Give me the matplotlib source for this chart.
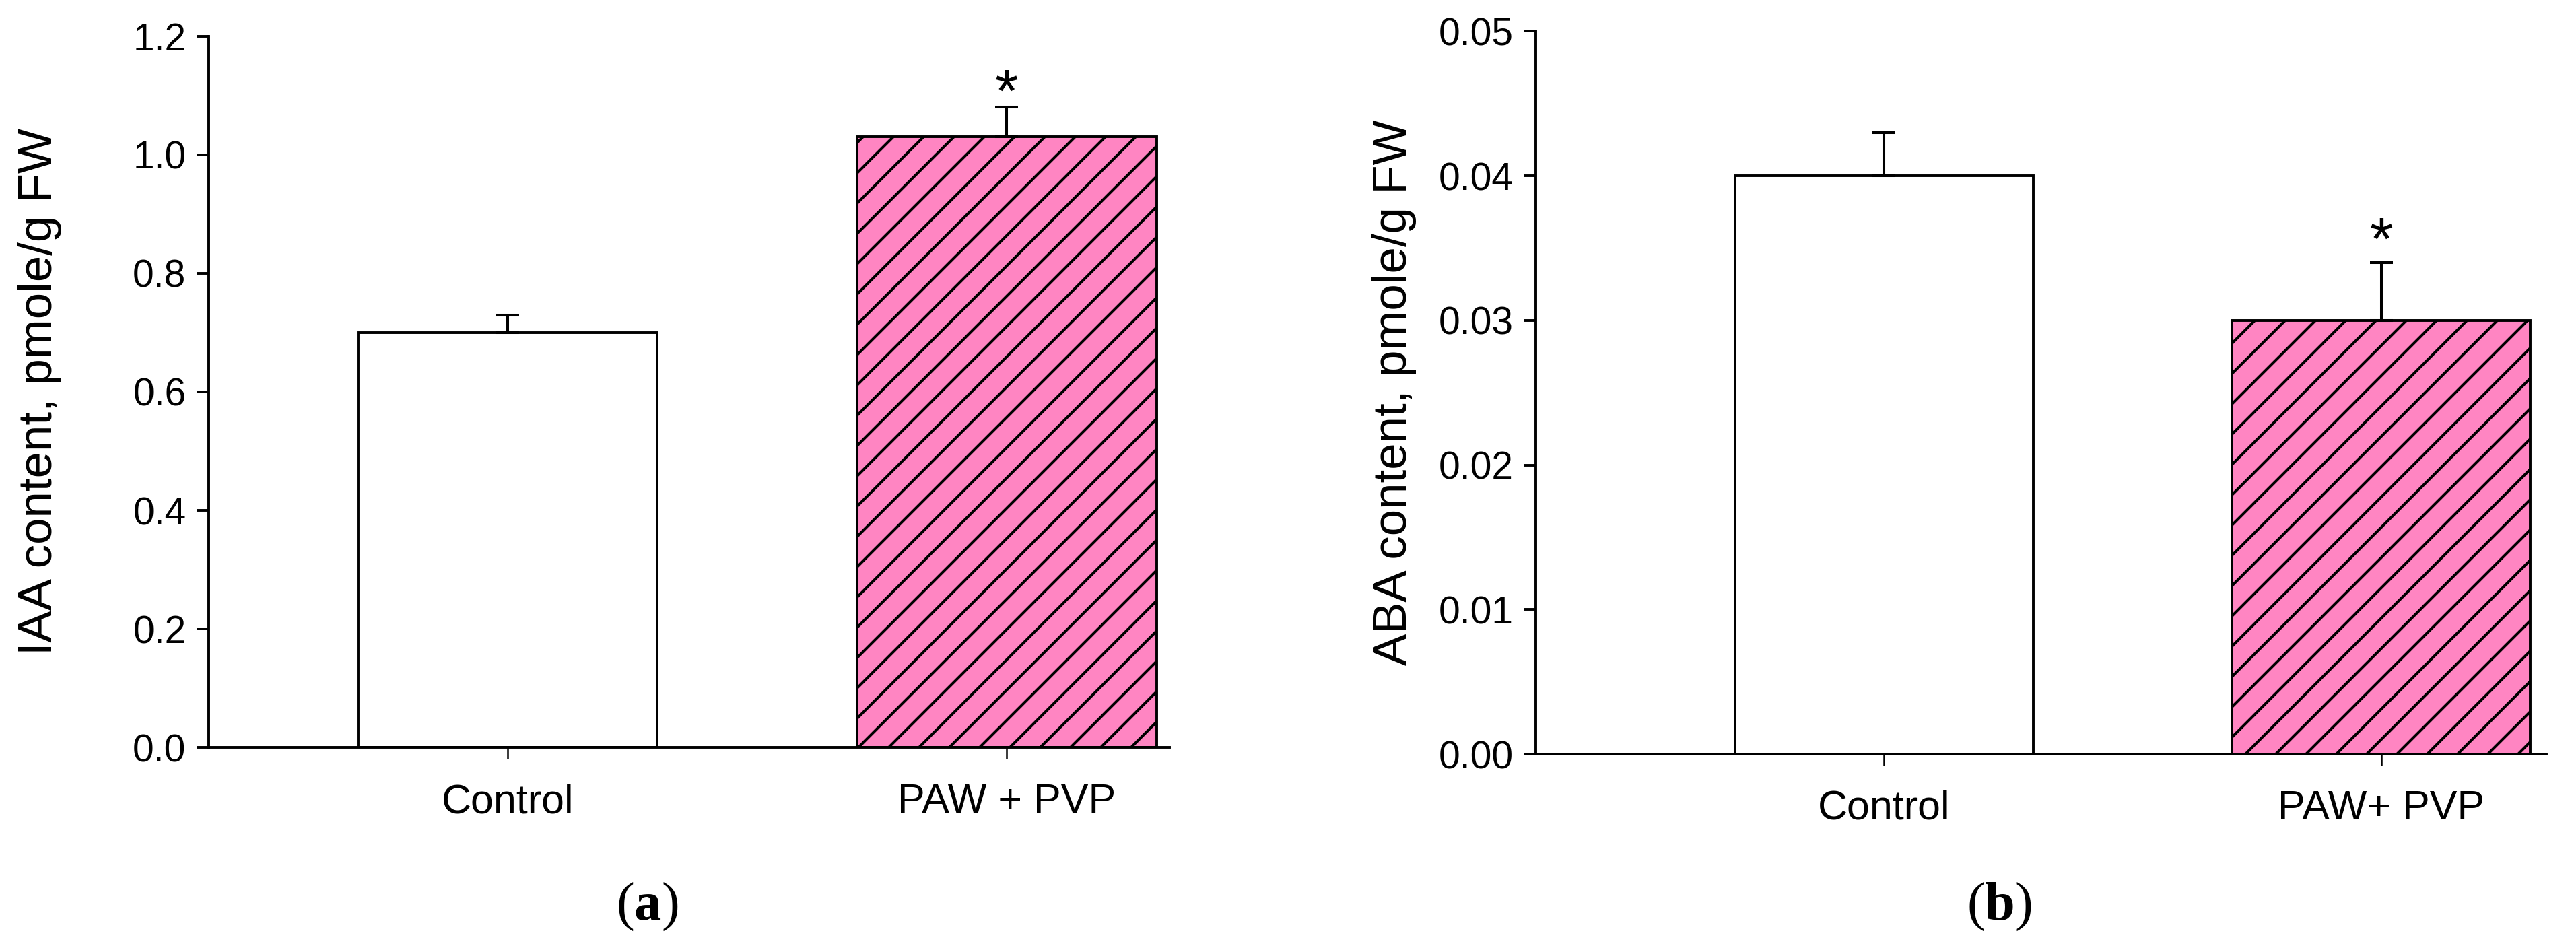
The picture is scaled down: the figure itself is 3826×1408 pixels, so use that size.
import matplotlib
matplotlib.use("Agg")
import matplotlib.pyplot as plt

# data
groups_a = ["Control", "PAW + PVP"]
iaa_mean = [0.70, 1.03]
iaa_err = [0.03, 0.05]
iaa_sig = [False, True]

groups_b = ["Control", "PAW+ PVP"]
aba_mean = [0.040, 0.030]
aba_err = [0.003, 0.004]
aba_sig = [False, True]

# dpi picked so the '//' hatch spacing matches the original; sizes below
# were worked out for 200 dpi, hence the factor S
DPI = 270
S = 200 / DPI

plt.rcParams["font.family"] = ["Liberation Sans", "DejaVu Sans"]
plt.rcParams["hatch.linewidth"] = 1.45 * S
plt.rcParams["mathtext.fontset"] = "custom"
plt.rcParams["mathtext.rm"] = "Liberation Serif"
plt.rcParams["mathtext.bf"] = "Liberation Serif:bold"

PINK = "#ff85c2"

fig = plt.figure(figsize=(3826 / DPI, 1408 / DPI), dpi=DPI)
ax_a = fig.add_axes([0.081, 0.2114, 0.373, 0.7505])
ax_b = fig.add_axes([0.5963, 0.2045, 0.3922, 0.7625])


def draw_panel(ax, groups, means, errs, sig, ylim, yticks, fmt, ylabel, xlim,
               star_off, labelpad):
    x = list(range(len(groups)))
    colors = ["white", PINK]
    hatches = ["", "//"]
    for xi, m, c, h in zip(x, means, colors, hatches):
        ax.bar(xi, m, width=0.6, color=c, edgecolor="black", linewidth=1.4 * S,
               hatch=h, zorder=2)
    ax.errorbar(x, means, yerr=[[0] * len(errs), errs], fmt="none",
                ecolor="black", elinewidth=1.45 * S, capsize=6 * S,
                capthick=1.45 * S, zorder=3)
    for xi, m, e, s in zip(x, means, errs, sig):
        if s:
            ax.annotate("*", xy=(xi, m + e), xytext=(0, star_off * S),
                        textcoords="offset points", ha="center", va="baseline",
                        fontsize=32 * S)

    ax.set_xlim(*xlim)
    ax.set_ylim(*ylim)
    ax.set_yticks(yticks)
    ax.set_yticklabels([fmt.format(v) for v in yticks], fontsize=20.5 * S)
    ax.set_xticks(x)
    ax.set_xticklabels(groups, fontsize=22 * S)
    ax.set_ylabel(ylabel, fontsize=25.5 * S, labelpad=labelpad * S)
    for side in ["top", "right"]:
        ax.spines[side].set_visible(False)
    for side in ["left", "bottom"]:
        ax.spines[side].set_linewidth(1.4 * S)
    ax.tick_params(axis="y", length=6 * S, width=1.4 * S, pad=6 * S)
    ax.tick_params(axis="x", length=6 * S, width=0.9 * S, pad=13 * S)


draw_panel(ax_a, groups_a, iaa_mean, iaa_err, iaa_sig, (0, 1.2),
           [0, 0.2, 0.4, 0.6, 0.8, 1.0, 1.2], "{:.1f}",
           "IAA content, pmole/g FW", (-0.599, 1.326), -2, 38)
draw_panel(ax_b, groups_b, aba_mean, aba_err, aba_sig, (0, 0.05),
           [0, 0.01, 0.02, 0.03, 0.04, 0.05], "{:.2f}",
           "ABA content, pmole/g FW", (-0.70, 1.332), 2, 12)

fig.text(0.2511, 0.0435, r"$(\mathbf{a})$", ha="center", va="center", fontsize=29 * S)
fig.text(0.776, 0.0435, r"$(\mathbf{b})$", ha="center", va="center", fontsize=29 * S)

fig.savefig("out.png", dpi=DPI, facecolor="white")
